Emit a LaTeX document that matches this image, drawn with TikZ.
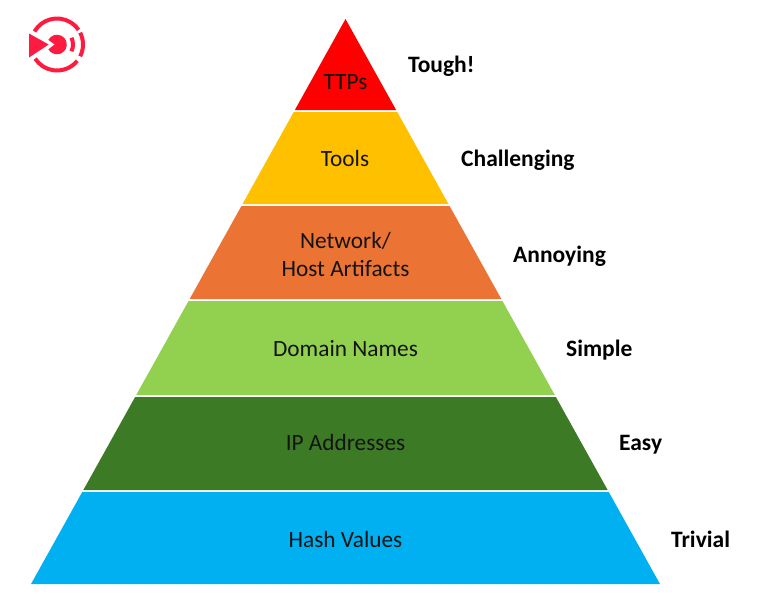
\documentclass[tikz,border=0pt]{standalone}
\usepackage{fontspec}
\setmainfont{Carlito}
\definecolor{logored}{HTML}{FF1A40}
\definecolor{ttpred}{HTML}{FF0000}
\definecolor{toolyellow}{HTML}{FFC000}
\definecolor{artorange}{HTML}{EB7333}
\definecolor{domaingreen}{HTML}{92D050}
\definecolor{ipgreen}{HTML}{3D7A25}
\definecolor{hashblue}{HTML}{00B0F0}
\tikzset{
  layerlabel/.style={font=\fontsize{23.3pt}{28pt}\selectfont,text=black!92,align=center,inner sep=0pt},
  painlabel/.style={font=\fontsize{23.5pt}{28pt}\selectfont\bfseries,text=black,anchor=base west,inner sep=0pt},
  logoline/.style={draw=logored,line width=4pt}
}
\begin{document}
\begin{tikzpicture}[x=1pt,y=-1pt]
  \useasboundingbox (0,0) rectangle (779,606);
  \def\apexx{345.5}
  \def\apexy{19}
  \def\slope{0.5566}

  % Pyramid layers: top y / bottom y / colour
  \foreach \ytop/\ybot/\col in {19/110/ttpred,112/204/toolyellow,206/299/artorange,
      301/395/domaingreen,397/490/ipgreen,492/584/hashblue}{
    \fill[\col] ({\apexx-\slope*(\ytop-\apexy)},\ytop) -- ({\apexx+\slope*(\ytop-\apexy)},\ytop)
      -- ({\apexx+\slope*(\ybot-\apexy)},\ybot) -- ({\apexx-\slope*(\ybot-\apexy)},\ybot) -- cycle;
  }

  % Layer names
  \node[layerlabel] (ttps) at (345.5,82.5) {TTPs};
  \node[layerlabel] (tools) at (345,158) {Tools};
  \node[layerlabel] (artifacts) at (345.5,254) {Network/\\Host Artifacts};
  \node[layerlabel] (domains) at (345.5,348.7) {Domain Names};
  \node[layerlabel] (addresses) at (345.5,442) {IP Addresses};
  \node[layerlabel] (hashes) at (345.5,539) {Hash Values};

  % Pain labels
  \node[painlabel] (tough) at (408,72) {Tough!};
  \node[painlabel] (challenging) at (461,166) {Challenging};
  \node[painlabel] (annoying) at (513,262) {Annoying};
  \node[painlabel] (simple) at (566,356) {Simple};
  \node[painlabel] (easy) at (619,450) {Easy};
  \node[painlabel] (trivial) at (671,547) {Trivial};

  % Logo
  \begin{scope}[shift={(57,44.5)}]
    \draw[logoline] (210:26) arc[start angle=210,end angle=326,radius=26];
    \draw[logoline] (-27:26) arc[start angle=-27,end angle=27,radius=26];
    \draw[logoline] (39:26) arc[start angle=39,end angle=147,radius=26];
    \draw[logoline] (-25:16) arc[start angle=-25,end angle=25,radius=16];
    \fill[logored] (-28,-11) -- (-8.3,0) -- (-28,13) -- cycle;
    \fill[logored] (208:9.8) arc[start angle=208,end angle=511,radius=9.8] -- (-2.3,0) -- cycle;
  \end{scope}
\end{tikzpicture}
\end{document}
